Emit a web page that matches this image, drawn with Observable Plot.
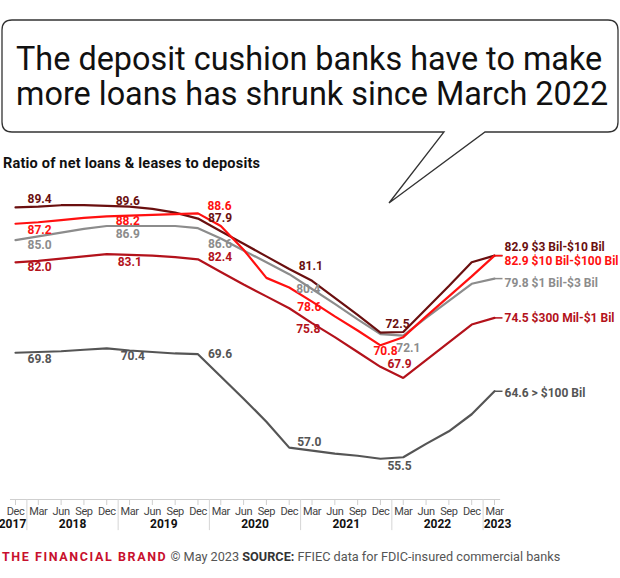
<!DOCTYPE html>
<html><head><meta charset="utf-8">
<script src="https://cdn.jsdelivr.net/npm/d3@7"></script>
<script src="https://cdn.jsdelivr.net/npm/@observablehq/plot@0.6"></script>
<style>
body{margin:0;background:#fff;}
#wrap{position:relative;width:620px;height:578px;overflow:hidden;font-family:Roboto,sans-serif;background:#fff;}
#bubble{position:absolute;left:0;top:0;}
#sub{position:absolute;left:3px;top:155.5px;font:700 14.5px/16px Roboto,sans-serif;letter-spacing:0.2px;color:#111;white-space:nowrap;}
#chart{position:absolute;left:0;top:175px;}
#chart g[aria-label="x-axis tick label"] text{letter-spacing:-0.4px;}
#foot{position:absolute;left:2px;top:549px;font:12.7px/15px Roboto,sans-serif;color:#555;white-space:nowrap;}
#foot .brand{color:#c8102e;font-weight:700;letter-spacing:1.6px;font-size:12.5px;}
#foot b{color:#333;}
</style></head><body>
<div id="wrap">
  <svg id="bubble" width="620" height="210">
    <path d="M485,132 L608,132 Q618,132 618,122 L618,30 Q618,20 608,20 L12,20 Q2,20 2,30 L2,122 Q2,132 12,132 L444,132 L389,203 Z" fill="#fff" stroke="#333" stroke-width="1.3" stroke-linejoin="miter"/>
    <text x="16" y="70" font-family="Roboto" font-size="32.4" fill="#111">The deposit cushion banks have to make</text>
    <text x="16" y="105" font-family="Roboto" font-size="32.4" fill="#111">more loans has shrunk since March 2022</text>
  </svg>
  <div id="sub">Ratio of net loans &amp; leases to deposits</div>
  <div id="chart"></div>
  <div id="foot"><span class="brand">THE FINANCIAL BRAND</span> © May 2023 <b>SOURCE:</b> FFIEC data for FDIC-insured commercial banks</div>
</div>
<script>
// Quarter tick labels, Dec 2017 .. Mar 2023
const months = ["Dec","Mar","Jun","Sep","Dec","Mar","Jun","Sep","Dec","Mar","Jun","Sep","Dec","Mar","Jun","Sep","Dec","Mar","Jun","Sep","Dec","Mar"];
const yearOfQuarter = [2017,2018,2018,2018,2018,2019,2019,2019,2019,2020,2020,2020,2020,2021,2021,2021,2021,2022,2022,2022,2022,2023];

// Series (bank asset size) and values
const seriesKeys  = ["dark","red","gray","dkred","big"];
const seriesNames = ["$3 Bil-$10 Bil","$10 Bil-$100 Bil","$1 Bil-$3 Bil","$300 Mil-$1 Bil","> $100 Bil"];
const v3to10    = [89.4,89.5,89.7,89.7,89.6,89.5,89.2,88.7,87.9,86.2,84.5,82.8,81.1,79.5,77.2,74.9,72.5,72.6,75.7,78.8,82.0,82.9];
const v10to100  = [87.2,87.4,87.7,88.0,88.2,88.3,88.4,88.5,88.6,86.9,83.7,79.9,78.6,76.7,74.7,72.8,70.8,71.9,74.7,77.4,80.1,82.9];
const v1to3     = [85.0,85.5,86.0,86.5,86.9,86.9,86.9,86.9,86.6,85.2,83.6,82.0,80.4,78.4,76.4,74.3,72.3,72.1,74.5,76.8,79.1,79.8];
const v300to1   = [82.0,82.2,82.5,82.8,83.1,83.0,82.9,82.7,82.4,80.7,79.0,77.4,75.8,73.8,71.9,69.9,67.9,66.4,68.8,71.2,73.6,74.5];
const vOver100  = [69.8,69.9,70.0,70.2,70.4,70.1,69.9,69.7,69.6,66.6,63.6,60.5,57.0,56.6,56.2,55.9,55.5,55.7,57.5,59.2,61.5,64.6];
const seriesValues = [v3to10, v10to100, v1to3, v300to1, vOver100];

// Annotated points: [series key, quarter index]
const labelPoints = [
  ["dark",0],["dark",4],["dark",8],["dark",12],["dark",16],
  ["red",0],["red",4],["red",8],["red",12],["red",16],
  ["gray",0],["gray",4],["gray",8],["gray",12],["gray",17],
  ["dkred",0],["dkred",4],["dkred",8],["dkred",12],["dkred",16],
  ["big",0],["big",4],["big",8],["big",12],["big",16]
];

// ---- styling / placement (not data) ----
const colors = {dark:"#6a0f0f", red:"#ff1010", gray:"#8c8c8c", dkred:"#b3121b", big:"#555555"};
const labelOffsets = [
  [12,-8],[9,-4.5],[10,0],[9.5,-2.5],[5,-8.5],
  [12,6],[9,4.5],[9.5,-7.5],[8,20],[-7,6],
  [12,5],[9,8.5],[10,16],[7,15],[-7,12],
  [12,5],[11,8],[10,-2],[7,21],[7,-3],
  [12,6.5],[14,8],[10,0],[8,-5],[7,7]
];
const endOffsets = {dark:-8, red:6, gray:4.5, dkred:0, big:2};
const yearDx = {"2017": -3, "2023": 3};

const rows = [];
seriesKeys.forEach((k, s) => seriesValues[s].forEach((v, i) => rows.push({key:k, name:seriesNames[s], i, v})));
const get = (k, i) => seriesValues[seriesKeys.indexOf(k)][i];
const last = months.length - 1;

const yearData = d3.groups(months.map((m, i) => ({i, y: yearOfQuarter[i]})), d => d.y)
  .map(([y, arr]) => ({label: String(y), x: d3.mean(arr, d => d.i)}));
const seps = months.map((m, i) => i).filter(i => months[i] === "Dec" && i < last).map(i => i + 0.5);

const drawOrder = ["gray","dkred","big","dark","red"];
const marks = [
  Plot.ruleY([50], {x1: -0.22, x2: last + 0.27, stroke: "#cfcfcf", strokeWidth: 1.2}),
  Plot.ruleX(seps, {x: d => d, y1: 50, y2: 45.8, stroke: "#d5d5d5", strokeWidth: 1}),
  Plot.axisX({ticks: d3.range(months.length), tickFormat: i => months[i], tickSize: 6, tickPadding: 2,
    label: null, fontSize: 11, fontFamily: "Roboto", stroke: "#cfcfcf", fill: "#444"}),
  ...yearData.map(d => Plot.text([d], {x: "x", frameAnchor: "bottom", dy: 28.5, dx: yearDx[d.label] || 0, text: "label",
    fontWeight: 700, fontSize: 12, fill: "#111", fontFamily: "Roboto"})),
  ...drawOrder.map(k => Plot.line(rows.filter(r => r.key === k), {x: "i", y: "v", stroke: colors[k], strokeWidth: 2.2, strokeLinejoin: "miter"})),
  ...seriesKeys.map(k => Plot.link([{i: last, v: get(k, last)}], {x1: "i", y1: "v", x2: d => d.i + 0.35, y2: "v", stroke: colors[k], strokeWidth: 1.5})),
  ...labelPoints.map(([k, i], n) => Plot.text([{i, v: get(k, i)}], {x: "i", y: "v", text: d => d.v.toFixed(1),
    dx: labelOffsets[n][0], dy: labelOffsets[n][1], textAnchor: "start", fill: colors[k], fontWeight: 700, fontSize: 12, fontFamily: "Roboto"})),
  ...seriesKeys.map((k, s) => Plot.text([{i: last, v: get(k, last)}], {x: "i", y: "v",
    text: d => d.v.toFixed(1) + " " + seriesNames[s], dx: 10, dy: endOffsets[k], textAnchor: "start",
    fill: colors[k], fontWeight: 700, fontSize: 12, fontFamily: "Roboto"}))
];

const chart = Plot.plot({
  width: 620, height: 360,
  marginLeft: 15, marginRight: 126, marginTop: 27.5, marginBottom: 36,
  x: {type: "linear", domain: [0, last]},
  y: {domain: [50, 90], axis: null},
  style: {overflow: "visible", background: "transparent"},
  marks
});
document.getElementById("chart").append(chart);
</script>
</body></html>
